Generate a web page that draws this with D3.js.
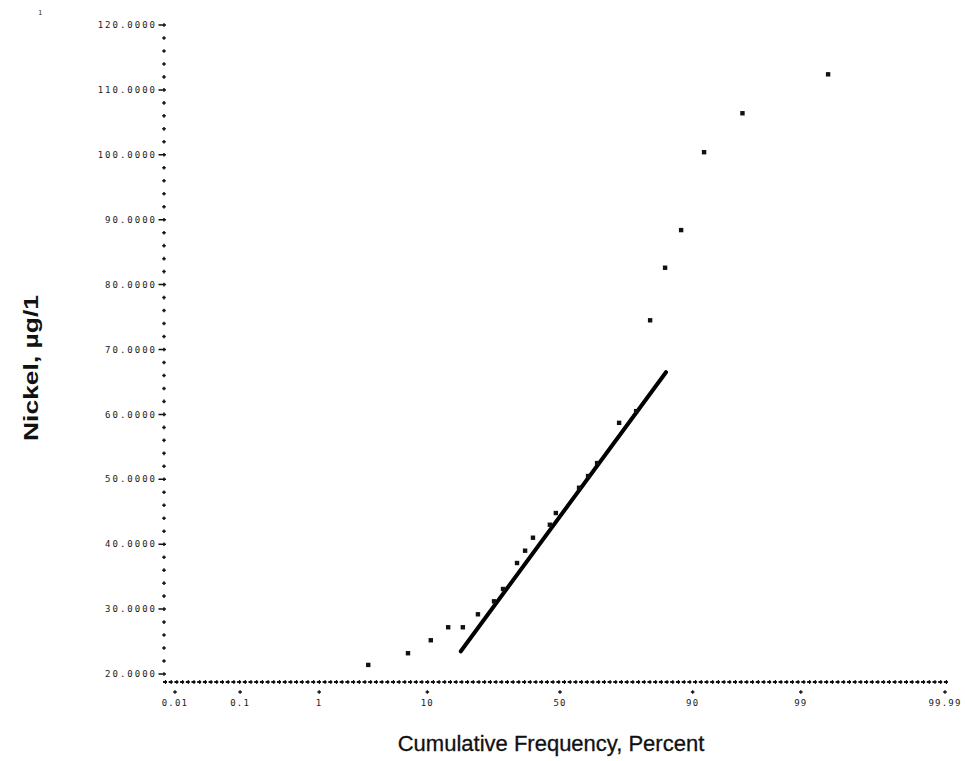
<!DOCTYPE html>
<html><head><meta charset="utf-8">
<script src="https://cdn.jsdelivr.net/npm/d3@7"></script>
<style>body{margin:0;background:#fff}</style>
</head><body><svg id="c" width="965" height="761"></svg>
<script>
// ---- data ----
const yTickValues = [20, 30, 40, 50, 60, 70, 80, 90, 100, 110, 120];
const yTickLabels = ["20.0000","30.0000","40.0000","50.0000","60.0000","70.0000","80.0000","90.0000","100.0000","110.0000","120.0000"];
const xTickPercents = [0.01, 0.1, 1, 10, 50, 90, 99, 99.99];
const xTickLabels = ["0.01","0.1","1","10","50","90","99","99.99"];
const pointPercents = [3.2, 7.1, 10.6, 14.0, 17.4, 21.4, 26.2, 29.1, 33.9, 36.8, 39.7, 46.1, 48.4, 57.3, 60.7, 64.0, 71.6, 76.9, 80.8, 84.5, 87.9, 91.8, 96.1, 99.52];
const pointValues   = [21.4, 23.2, 25.2, 27.2, 27.2, 29.2, 31.2, 33.1, 37.1, 39.0, 41.0, 43.0, 44.8, 48.7, 50.5, 52.5, 58.7, 60.5, 74.5, 82.6, 88.4, 100.4, 106.4, 112.4];
const fitPercents = [16.9, 84.7];
const fitValues   = [23.5, 66.5];
const xTitle = "Cumulative Frequency, Percent";
const yTitle = "Nickel, \u00b5g/1";

// inverse normal CDF (probability-paper transform)
function probit(p){
  const a=[-3.969683028665376e+01,2.209460984245205e+02,-2.759285104469687e+02,1.383577518672690e+02,-3.066479806614716e+01,2.506628277459239e+00];
  const b=[-5.447609879822406e+01,1.615858368580409e+02,-1.556989798598866e+02,6.680131188771972e+01,-1.328068155288572e+01];
  const c=[-7.784894002430293e-03,-3.223964580411365e-01,-2.400758277161838e+00,-2.549671207839450e+00,4.374664141464968e+00,2.938163982698783e+00];
  const d=[7.784695709041462e-03,3.224671290700398e-01,2.445134137142996e+00,3.754408661907416e+00];
  const pl=0.02425, ph=1-pl; let q,r;
  if(p<pl){q=Math.sqrt(-2*Math.log(p));return (((((c[0]*q+c[1])*q+c[2])*q+c[3])*q+c[4])*q+c[5])/((((d[0]*q+d[1])*q+d[2])*q+d[3])*q+1);}
  if(p<=ph){q=p-0.5;r=q*q;return (((((a[0]*r+a[1])*r+a[2])*r+a[3])*r+a[4])*r+a[5])*q/(((((b[0]*r+b[1])*r+b[2])*r+b[3])*r+b[4])*r+1);}
  q=Math.sqrt(-2*Math.log(1-p));return -(((((c[0]*q+c[1])*q+c[2])*q+c[3])*q+c[4])*q+c[5])/((((d[0]*q+d[1])*q+d[2])*q+d[3])*q+1);
}

const svg = d3.select("#c");
const zScale = d3.scaleLinear().domain([probit(0.0001), probit(0.9999)]).range([175, 945]);
const x = pct => zScale(probit(pct/100));
const y = d3.scaleLinear().domain([20, 120]).range([674, 25]);
const axisY = y(18.77);
const axisX = 164;
const ink = "#111";
const tickFont = "'DejaVu Sans Mono', monospace";

// y axis minor ticks (every 2 units)
const minor = d3.range(22, 120, 2).filter(v => v % 10 !== 0);
svg.append("g").selectAll("path").data(minor).join("path")
  .attr("d", v => `M${axisX-1.8},${y(v)}h3.6M${axisX},${y(v)-1.8}v3.6`)
  .attr("stroke", ink).attr("stroke-width", 1.5);

// y axis major ticks + labels
const yg = svg.append("g");
yg.selectAll("path").data(yTickValues).join("path")
  .attr("d", v => `M${axisX-5.5},${y(v)}h7.5M${axisX},${y(v)-1.8}v3.6`)
  .attr("stroke", ink).attr("stroke-width", 1.5);
yg.selectAll("text").data(yTickValues).join("text")
  .attr("x", 157).attr("y", v => y(v)).attr("dy", "0.35em")
  .attr("text-anchor", "end")
  .attr("font-family", tickFont).attr("font-size", 9)
  .attr("letter-spacing", 2.0).attr("fill", "#222")
  .text((v, i) => yTickLabels[i]);

// x axis: dotted "+" line
const x0 = 163, x1 = 948;
svg.append("line").attr("x1", x0).attr("x2", x1).attr("y1", axisY).attr("y2", axisY)
  .attr("stroke", ink).attr("stroke-width", 1.8).attr("stroke-dasharray", "4 1.7");
svg.append("g").selectAll("line").data(d3.range(x0, x1, 5.7)).join("line")
  .attr("x1", d => d + 2.5).attr("x2", d => d + 2.5)
  .attr("y1", axisY - 2).attr("y2", axisY + 2)
  .attr("stroke", ink).attr("stroke-width", 1.2);

// x ticks + labels
const xg = svg.append("g");
xg.selectAll("path").data(xTickPercents).join("path")
  .attr("d", p => `M${x(p)-1.8},${axisY+10}h3.6M${x(p)},${axisY+8.2}v3.6`)
  .attr("stroke", ink).attr("stroke-width", 1.4);
xg.selectAll("text").data(xTickPercents).join("text")
  .attr("x", p => x(p)).attr("y", axisY + 24)
  .attr("text-anchor", "middle")
  .attr("font-family", tickFont).attr("font-size", 9)
  .attr("letter-spacing", 1.2).attr("fill", "#222")
  .text((p, i) => xTickLabels[i]);

// fitted line
svg.append("line")
  .attr("x1", x(fitPercents[0])).attr("y1", y(fitValues[0]))
  .attr("x2", x(fitPercents[1])).attr("y2", y(fitValues[1]))
  .attr("stroke", "#000").attr("stroke-width", 4).attr("stroke-linecap", "round");

// data points
svg.append("g").selectAll("rect").data(pointPercents).join("rect")
  .attr("x", (p) => x(p) - 2.2).attr("y", (p, i) => y(pointValues[i]) - 2.2)
  .attr("width", 4.4).attr("height", 4.4).attr("fill", ink);

// titles
svg.append("text").attr("x", 551).attr("y", 751).attr("text-anchor", "middle")
  .attr("font-family", "'Liberation Sans', Arial, sans-serif").attr("font-size", 22)
  .attr("fill", "#111").attr("stroke", "#111").attr("stroke-width", 0.3).text(xTitle);
svg.append("text").attr("transform", "translate(38,368) rotate(-90)")
  .attr("text-anchor", "middle")
  .attr("font-family", "'Liberation Sans', Arial, sans-serif").attr("font-size", 21)
  .attr("font-weight", "bold").attr("fill", "#111")
  .attr("textLength", 146).attr("lengthAdjust", "spacingAndGlyphs")
  .text(yTitle);

// stray mark at top-left of scan
svg.append("text").attr("x", 38).attr("y", 15).attr("font-family", tickFont)
  .attr("font-size", 7).attr("fill", "#333").text("1");
</script>
</body></html>
